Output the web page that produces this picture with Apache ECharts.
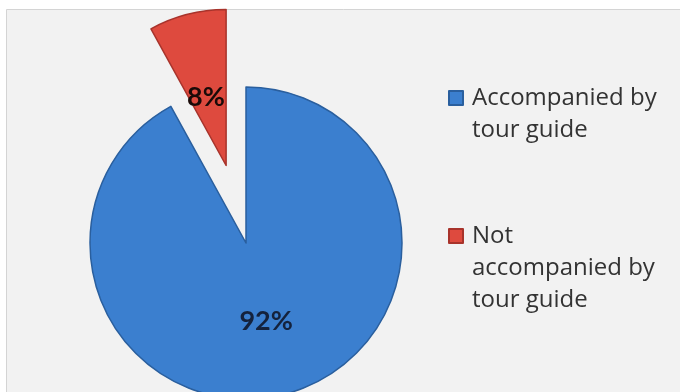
<!DOCTYPE html>
<html>
<head>
<meta charset="utf-8">
<script src="https://cdn.jsdelivr.net/npm/echarts@6/dist/echarts.min.js"></script>
<style>
  html, body { margin: 0; padding: 0; background: #ffffff; }
  #chart { width: 680px; height: 392px; }
</style>
</head>
<body>
<div id="chart"></div>
<script>
const categories = ['Accompanied by tour guide', 'Not accompanied by tour guide'];
const legendLines = [['Accompanied by', 'tour guide'], ['Not', 'accompanied by', 'tour guide']];
const values = [92, 8];
const colors = ['#3b7fcf', '#de4a3e'];
const edgeColors = ['#2a5f9e', '#a8332b'];
const labelColors = ['#14223d', '#1a0a08'];

const chart = echarts.init(document.getElementById('chart'), null, { renderer: 'canvas' });

const LH = 32;
function makeLegend(i, iconCenterY) {
  const n = legendLines[i].length;
  const pre = [];
  for (let k = 0; k < n - 1; k++) pre.push('{e| }');
  const lines = pre.concat(legendLines[i].map(function (s) { return '{t|' + s + '}'; }));
  return {
    data: [categories[i]],
    orient: 'vertical',
    left: 448,
    top: iconCenterY - (2 * n - 1) * LH / 2,
    padding: 0,
    itemWidth: 14,
    itemHeight: 14,
    itemGap: 0,
    icon: 'rect',
    selectedMode: false,
    formatter: function () { return lines.join('\n'); },
    textStyle: {
      fontFamily: 'Open Sans',
      fontSize: 24,
      lineHeight: LH,
      color: '#333333',
      rich: {
        t: { fontFamily: 'Open Sans', fontSize: 24, lineHeight: LH, color: '#333333', padding: [0, 0, 0, 4] },
        e: { fontFamily: 'Open Sans', fontSize: 24, lineHeight: LH }
      }
    }
  };
}

const option = {
  animation: false,
  backgroundColor: '#ffffff',
  graphic: [{
    type: 'rect',
    shape: { x: 6.5, y: 9.5, width: 700, height: 400 },
    style: { fill: '#f2f2f2', stroke: '#d4d4d4', lineWidth: 1 },
    z: -10,
    silent: true
  }],
  legend: [makeLegend(0, 98), makeLegend(1, 236)],
  series: [{
    type: 'pie',
    center: [246, 243],
    radius: 156,
    startAngle: 90,
    clockwise: true,
    selectedMode: 'single',
    selectedOffset: 80,
    emphasis: { disabled: true },
    label: {
      show: true,
      position: 'inside',
      fontFamily: 'Lato',
      fontWeight: 'bold',
      fontSize: 27,
      formatter: '{c}%'
    },
    labelLine: { show: false },
    data: categories.map(function (c, i) {
      return {
        name: c,
        value: values[i],
        selected: i === 1,
        itemStyle: {
          color: colors[i],
          borderColor: edgeColors[i],
          borderWidth: 1.5
        },
        label: i === 1
          ? { color: labelColors[i], formatter: '\n{c}%', lineHeight: 20 }
          : { color: labelColors[i] }
      };
    })
  }]
};
chart.setOption(option);
</script>
</body>
</html>
